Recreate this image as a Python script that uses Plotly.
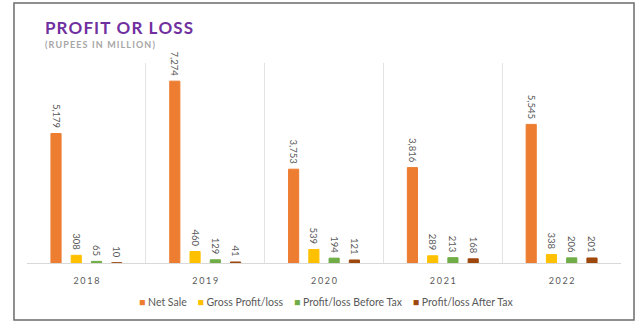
import plotly.graph_objects as go

years = ["2018", "2019", "2020", "2021", "2022"]
net_sale = [5179, 7274, 3753, 3816, 5545]
gross_profit = [308, 460, 539, 289, 338]
profit_before_tax = [65, 129, 194, 213, 206]
profit_after_tax = [10, 41, 121, 168, 201]

series_names = ["Net Sale", "Gross Profit/loss", "Profit/loss Before Tax", "Profit/loss After Tax"]
series_values = [net_sale, gross_profit, profit_before_tax, profit_after_tax]
series_colors = ["#ED7D31", "#FFC000", "#70AD47", "#9E480E"]

FONT = "Lato, 'Open Sans', sans-serif"
HS = "\u200a"  # hair space for letter spacing
TS = "\u2009"  # thin space


def spaced(s, sep=HS):
    return sep.join(list(s))


fig = go.Figure()
for name, vals, col in zip(series_names, series_values, series_colors):
    fig.add_trace(go.Bar(
        x=years, y=vals, name=name,
        marker=dict(color=col, line=dict(color=col, width=1)),
        texttemplate="%{y:,}\u00a0", textposition="outside", textangle=90,
        constraintext="none", cliponaxis=False,
        textfont=dict(family=FONT, size=9.5, color="#595959"),
        showlegend=False,
    ))

# legend built as a single centred text line from the series names/colors
legend_text = "\u00a0\u00a0\u00a0\u00a0".join(
    f'<span style="color:{c}">■</span>\u00a0{n}' for n, c in zip(series_names, series_colors)
)

fig.update_layout(
    width=642, height=326,
    margin=dict(l=27, r=21, t=63, b=63),
    paper_bgcolor="white", plot_bgcolor="white",
    barmode="group", bargap=0.318, bargroupgap=0.5,
    font=dict(family=FONT, color="#595959"),
    xaxis=dict(
        type="category", range=[-0.5, 4.5],
        tickmode="array", tickvals=years, ticktext=[spaced(y, TS + HS) for y in years],
        tickson="boundaries", showgrid=True, gridcolor="#E3E3E3", gridwidth=1,
        ticks="", showline=True, linecolor="#D9D9D9", linewidth=1,
        tickfont=dict(family=FONT, size=9, color="#595959"),
        ticklabelstandoff=9, zeroline=False,
    ),
    yaxis=dict(range=[0, 8000], visible=False, showgrid=False, zeroline=False),
    annotations=[
        dict(text="<b>" + spaced("PROFIT OR LOSS") + "</b>", xref="paper", yref="paper",
             x=0.027, y=1.1775, xanchor="left", yanchor="middle", showarrow=False,
             font=dict(family=FONT, size=17, color="#7030A0")),
        dict(text="<b>" + spaced("(RUPEES IN MILLION)", TS) + "</b>", xref="paper", yref="paper",
             x=0.027, y=1.0925, xanchor="left", yanchor="middle", showarrow=False,
             font=dict(family=FONT, size=9, color="#A6A6A6")),
        dict(text=legend_text, xref="paper", yref="paper",
             x=0.505, y=-0.195, xanchor="center", yanchor="middle", showarrow=False,
             font=dict(family=FONT, size=10.5, color="#595959")),
    ],
    shapes=[
        dict(type="rect", xref="paper", yref="paper",
             x0=-0.0219, x1=1.0219, y0=-0.285, y1=1.30,
             line=dict(color="#6B6B6B", width=1.5), fillcolor="rgba(0,0,0,0)", layer="below"),
    ],
)

fig.write_html("out.html")
